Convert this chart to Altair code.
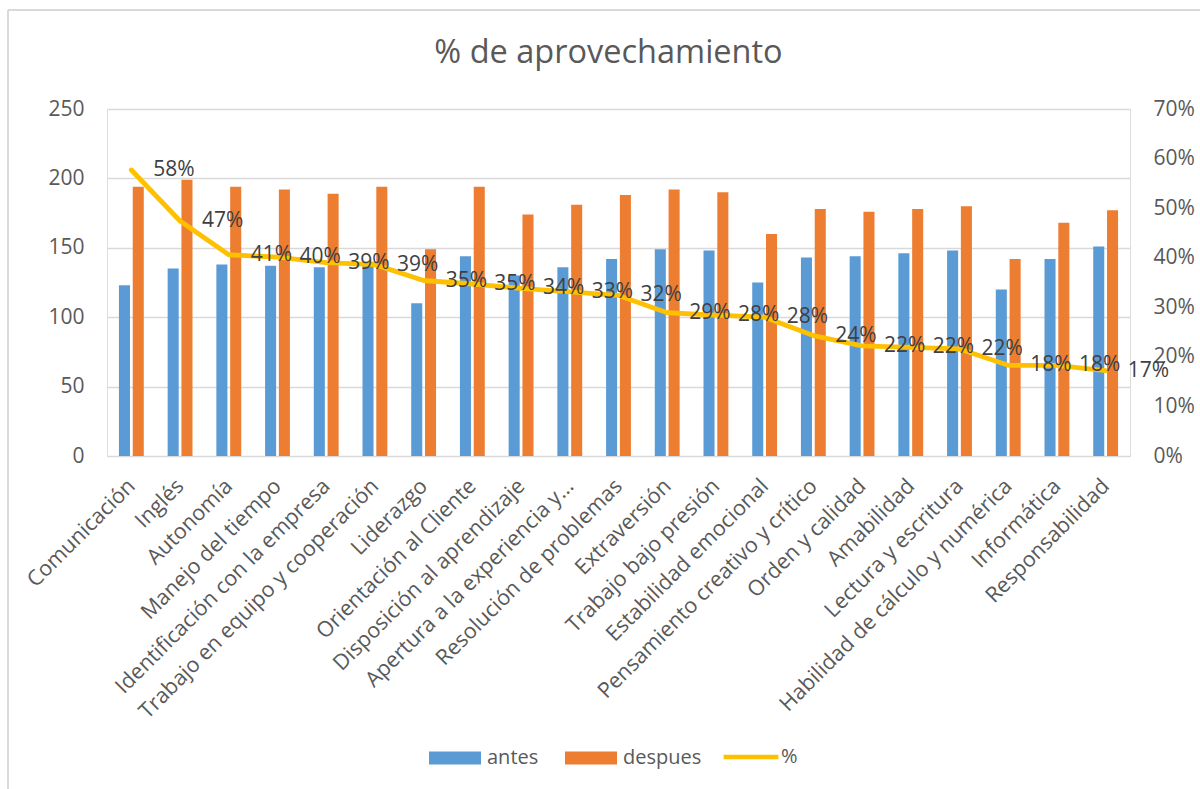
import altair as alt
import pandas as pd

# Competencias evaluadas, puntuación antes / después y % de aprovechamiento
categorias = [
    "Comunicación", "Inglés", "Autonomía", "Manejo del tiempo",
    "Identificación con la empresa", "Trabajo en equipo y cooperación",
    "Liderazgo", "Orientación al Cliente", "Disposición al aprendizaje",
    "Apertura a la experiencia y…", "Resolución de problemas", "Extraversión",
    "Trabajo bajo presión", "Estabilidad emocional",
    "Pensamiento creativo y crítico", "Orden y calidad", "Amabilidad",
    "Lectura y escritura", "Habilidad de cálculo y numérica", "Informática",
    "Responsabilidad",
]
antes = [123, 135, 138, 137, 136, 140, 110, 144, 130, 136, 142,
         149, 148, 125, 143, 144, 146, 148, 120, 142, 151]
despues = [194, 199, 194, 192, 189, 194, 149, 194, 174, 181, 188,
           192, 190, 160, 178, 176, 178, 180, 142, 168, 177]
porcentaje = [0.577, 0.474, 0.406, 0.401, 0.390, 0.386, 0.354, 0.347, 0.338,
              0.331, 0.324, 0.289, 0.284, 0.280, 0.243, 0.222, 0.219, 0.216,
              0.183, 0.183, 0.172]
series = ["antes", "despues"]

FONT = "Open Sans"
GRAY = "#595959"

barras_df = pd.DataFrame(
    [{"cat": c, "serie": "antes", "valor": a} for c, a in zip(categorias, antes)]
    + [{"cat": c, "serie": "despues", "valor": d} for c, d in zip(categorias, despues)]
)
pct_df = pd.DataFrame({"cat": categorias, "pct": porcentaje,
                       "serie": ["%"] * len(categorias)})

x_enc = alt.X(
    "cat:N", sort=categorias, title=None,
    scale=alt.Scale(paddingInner=0.49, paddingOuter=0.245),
    axis=alt.Axis(labelAngle=-45, labelFontSize=21.5, labelFont=FONT,
                  labelColor=GRAY, ticks=False, domainColor="#D9D9D9",
                  domainWidth=1, labelPadding=19, labelOffset=-7,
                  labelBaseline="top", labelAlign="right", labelLimit=0,
                  grid=False),
)

barras = alt.Chart(barras_df).mark_bar().encode(
    x=x_enc,
    xOffset=alt.XOffset("serie:N", sort=series,
                        scale=alt.Scale(paddingInner=0.2, paddingOuter=0)),
    y=alt.Y("valor:Q", title=None,
            scale=alt.Scale(domain=[0, 250], nice=False),
            axis=alt.Axis(values=[0, 50, 100, 150, 200, 250], orient="left",
                          labelFontSize=21, labelFont=FONT, labelColor=GRAY,
                          ticks=False, domain=False, labelPadding=23,
                          gridColor="#D9D9D9", gridWidth=1.3)),
    color=alt.Color("serie:N", sort=series,
                    scale=alt.Scale(domain=series, range=["#5B9BD5", "#ED7D31"]),
                    legend=alt.Legend(orient="none", legendX=322, legendY=623,
                                      direction="horizontal", title=None,
                                      symbolType="M-1,-0.25H1V0.25H-1Z",
                                      symbolSize=2704, symbolStrokeWidth=0,
                                      labelFontSize=20, labelFont=FONT,
                                      labelColor=GRAY, labelOffset=6,
                                      columnPadding=26)),
)

y_pct = alt.Y("pct:Q", title=None,
              scale=alt.Scale(domain=[0, 0.7], nice=False),
              axis=alt.Axis(values=[0, 0.1, 0.2, 0.3, 0.4, 0.5, 0.6, 0.7],
                            format=".0%", orient="right", labelFontSize=21,
                            labelFont=FONT, labelColor=GRAY, ticks=False,
                            domain=False, grid=False, labelPadding=23))

linea = alt.Chart(pct_df).mark_line(strokeWidth=4.8, strokeCap="round",
                                    strokeJoin="round").encode(
    x=alt.X("cat:N", sort=categorias),
    y=y_pct,
    stroke=alt.Stroke("serie:N",
                      scale=alt.Scale(domain=["%"], range=["#FFC000"]),
                      legend=alt.Legend(orient="none", legendX=614, legendY=618,
                                        title=None, symbolType="stroke",
                                        symbolSize=3000, symbolStrokeWidth=4.5,
                                        labelFontSize=20, labelFont=FONT,
                                        labelColor=GRAY, labelOffset=0)),
)

etiquetas = alt.Chart(pct_df).mark_text(
    align="left", baseline="middle", dx=22, fontSize=21, font=FONT,
    color="#404040",
).encode(
    x=alt.X("cat:N", sort=categorias),
    y=alt.Y("pct:Q"),
    text=alt.Text("pct:Q", format=".0%"),
)

# Marco exterior del gráfico (bordes superior e izquierdo)
marco_sup = alt.Chart(pct_df).mark_rule(color="#D9D9D9", strokeWidth=1.5).encode(
    x=alt.value(-99), x2=alt.value(1200), y=alt.value(-99))
marco_izq = alt.Chart(pct_df).mark_rule(color="#D9D9D9", strokeWidth=1.5).encode(
    x=alt.value(-99), y=alt.value(-99), y2=alt.value(700))

chart = alt.layer(
    marco_sup, marco_izq, barras, alt.layer(linea, etiquetas)
).resolve_scale(
    y="independent", color="independent", stroke="independent"
).properties(
    width=1023, height=347,
    padding={"left": 107, "top": 109, "right": 70, "bottom": 333},
    autosize=alt.AutoSizeParams(type="none"),
    title=alt.TitleParams("% de aprovechamiento", fontSize=32.5, font=FONT,
                          color=GRAY, fontWeight="normal", anchor="middle",
                          offset=-60, dx=-10),
).configure_view(stroke=None).configure(background="white")

chart.save("out.html", embed_options={"renderer": "svg", "actions": False})
